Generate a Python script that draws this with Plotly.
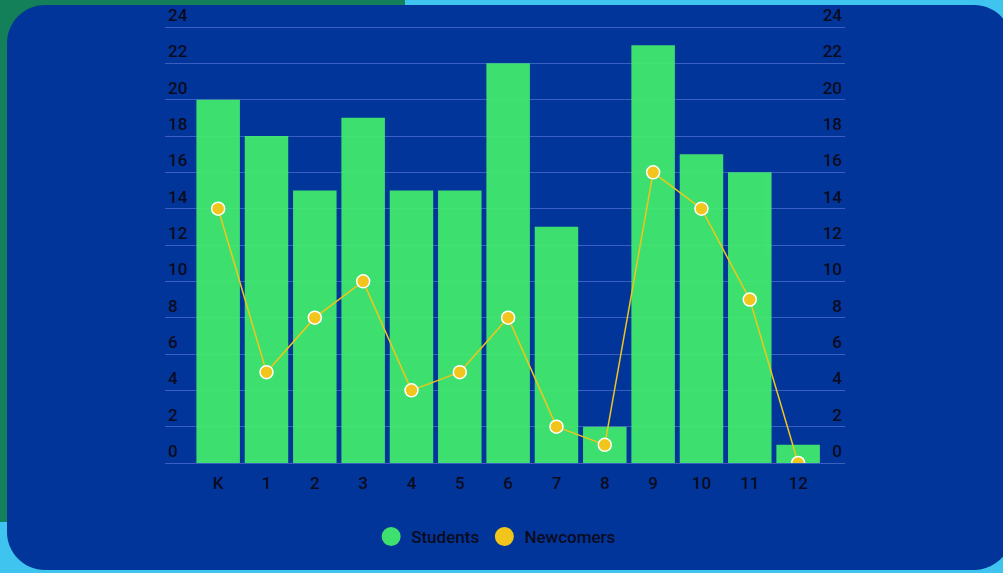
import plotly.graph_objects as go

grades = ["K", "1", "2", "3", "4", "5", "6", "7", "8", "9", "10", "11", "12"]
students = [20, 18, 15, 19, 15, 15, 22, 13, 2, 23, 17, 16, 1]
newcomers = [14, 5, 8, 10, 4, 5, 8, 2, 1, 16, 14, 9, 0]
y_ticks = [0, 2, 4, 6, 8, 10, 12, 14, 16, 18, 20, 22, 24]

W, H = 1003, 573
ML, MR, MT, MB = 165, 158, 5, 110
PW, PH = W - ML - MR, H - MT - MB
Y_TOP = 24 * PH / (463 - 27)  # keep 24 at 27px, extend range to plot top

BG_LIGHT = "#3ec4ef"
BG_GREEN = "#138059"
PANEL = "#02359a"
GREEN = "#43ef6c"
YELLOW = "#f1c51b"
TEXT = "#0b0b1e"
GRID = "#3a5fc2"
FONT = dict(family="Roboto", size=17, color=TEXT, weight=500)


def px(x):
    return (x - ML) / PW


def py(y):
    return (H - MB - y) / PH


def rounded_rect(x0, y0, x1, y1, r):
    k = 0.5523 * r
    def P(x, y):
        return f"{px(x):.5f},{py(y):.5f}"
    s = f"M {P(x0 + r, y0)} L {P(x1 - r, y0)} "
    s += f"C {P(x1 - r + k, y0)} {P(x1, y0 + r - k)} {P(x1, y0 + r)} "
    s += f"L {P(x1, y1 - r)} "
    s += f"C {P(x1, y1 - r + k)} {P(x1 - r + k, y1)} {P(x1 - r, y1)} "
    s += f"L {P(x0 + r, y1)} "
    s += f"C {P(x0 + r - k, y1)} {P(x0, y1 - r + k)} {P(x0, y1 - r)} "
    s += f"L {P(x0, y0 + r)} "
    s += f"C {P(x0, y0 + r - k)} {P(x0 + r - k, y0)} {P(x0 + r, y0)} Z"
    return s


fig = go.Figure()

fig.add_trace(go.Bar(
    x=list(range(len(grades))), y=students, name="Students",
    marker=dict(color=GREEN, line=dict(width=0)), opacity=0.92, width=0.9,
    showlegend=False,
))
fig.add_trace(go.Scatter(
    x=list(range(len(grades))), y=newcomers, name="Newcomers", yaxis="y2",
    mode="lines+markers",
    line=dict(color=YELLOW, width=1.5),
    marker=dict(size=13, color=YELLOW, line=dict(color="white", width=1.5)),
    showlegend=False,
))
# legend entries
fig.add_trace(go.Scatter(
    x=[None], y=[None], name="Students", mode="markers",
    marker=dict(size=16, color="#3ee070", line=dict(color="#3ee070", width=3)),
))
fig.add_trace(go.Scatter(
    x=[None], y=[None], name="Newcomers", mode="markers",
    marker=dict(size=16, color=YELLOW, line=dict(color=YELLOW, width=3)),
))

shapes = [
    dict(type="rect", xref="paper", yref="paper", layer="below",
         x0=px(0), x1=px(405), y0=py(0), y1=py(522),
         fillcolor=BG_GREEN, line=dict(width=0)),
    dict(type="path", xref="paper", yref="paper", layer="below",
         path=rounded_rect(7, 5, 1012, 570, 38),
         fillcolor=PANEL, line=dict(width=0)),
]

fig.update_layout(
    width=W, height=H,
    margin=dict(l=ML, r=MR, t=MT, b=MB, pad=0),
    paper_bgcolor=BG_LIGHT, plot_bgcolor="rgba(0,0,0,0)",
    font=FONT,
    shapes=shapes,
    bargap=0.1,
    xaxis=dict(
        range=[-1.1, 12.97], tickmode="array",
        tickvals=list(range(len(grades))), ticktext=grades,
        showgrid=False, zeroline=False, showline=False,
        ticks="outside", ticklen=5, tickcolor="rgba(0,0,0,0)",
        tickfont=FONT,
    ),
    yaxis=dict(
        range=[0, Y_TOP], tickmode="array", tickvals=y_ticks,
        showgrid=True, gridcolor=GRID, gridwidth=1,
        zeroline=True, zerolinecolor=GRID, zerolinewidth=1, showline=False,
        ticklabelposition="inside top", tickfont=FONT,
    ),
    yaxis2=dict(
        range=[0, Y_TOP], tickmode="array", tickvals=y_ticks,
        overlaying="y", side="right",
        showgrid=False, zeroline=False, showline=False,
        ticklabelposition="inside top", tickfont=FONT,
    ),
    legend=dict(
        orientation="h", x=0.487, xanchor="center", y=py(537), yanchor="middle",
        bgcolor="rgba(0,0,0,0)", font=FONT,
    ),
)

fig.write_html("out.html", config={"displayModeBar": False},
               post_script="document.body.style.margin='0';")
